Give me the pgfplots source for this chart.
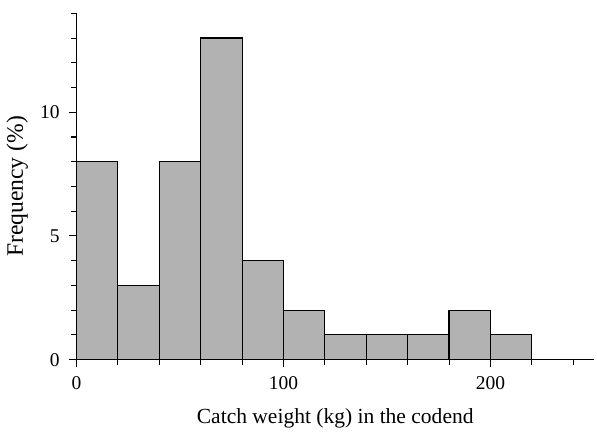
\documentclass[border=0pt]{standalone}
\usepackage{fontspec}
\setmainfont{Liberation Serif}
\usepackage{pgfplots}
\pgfplotsset{compat=1.18}
\begin{document}
\fontsize{19}{22}\selectfont
\begin{tikzpicture}
\begin{axis}[
  scale only axis,
  width=505pt, height=338pt,
  xmin=0, xmax=250, ymin=0, ymax=14,
  axis x line=bottom, axis y line=left,
  axis line style={-, line width=1.2pt},
  xtick={0,100,200}, ytick={0,5,10},
  minor xtick={20,40,60,80,120,140,160,180,220,240},
  minor ytick={1,2,3,4,6,7,8,9,11,12,13,14},
  tick align=outside,
  major tick length=7pt, minor tick length=5pt,
  tick style={line width=1pt, black},
  /pgf/number format/assume math mode=true,
  ticklabel style={font=\fontsize{19}{22}\selectfont},
  xticklabel style={yshift=-3pt},
  yticklabel style={xshift=-3pt},
  xlabel={Catch weight (kg) in the codend},
  ylabel={Frequency (\%)},
  xlabel style={font=\fontsize{21}{24}\selectfont, yshift=-6pt},
  ylabel style={font=\fontsize{23}{26}\selectfont, yshift=-1pt},
  clip=false,
]
\addplot[ybar interval, fill=black!30, draw=black, line width=1.1pt]
coordinates {(0,8) (20,3) (40,8) (60,13) (80,4) (100,2) (120,1) (140,1) (160,1) (180,2) (200,1) (220,1)};
\path (rel axis cs:0,1) ++(0,13pt) coordinate (top);
\path (rel axis cs:1,0) ++(3pt,0) coordinate (right);
\end{axis}
\end{tikzpicture}
\end{document}
